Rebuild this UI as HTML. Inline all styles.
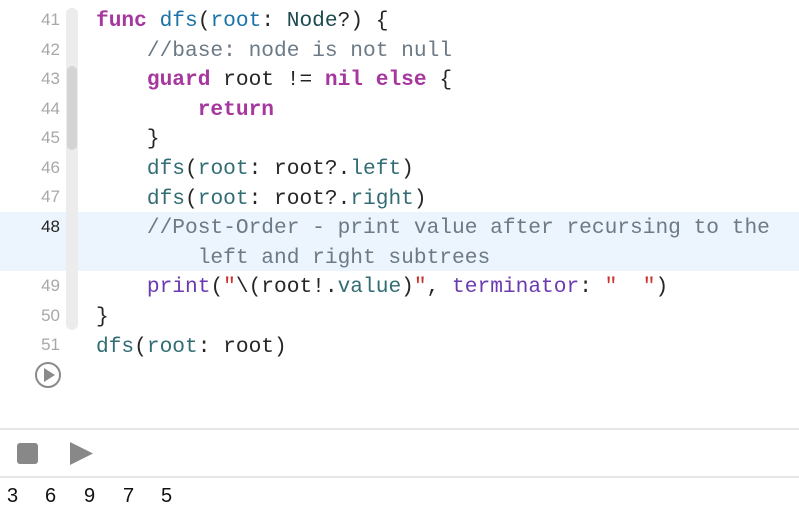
<!DOCTYPE html>
<html><head><style>
body{margin:0;width:799px;height:518px;background:#fff;position:relative;overflow:hidden;font-family:"Liberation Mono",monospace}
.hl{position:absolute;left:0;top:212px;width:799px;height:59px;background:#ecf4fe}
.track{position:absolute;left:66px;top:8px;width:12px;height:322px;background:#ececec;border-radius:6px}
.thumb{position:absolute;left:67px;top:66px;width:10px;height:84px;background:#d4d4d4;border-radius:5px}
.ln{position:absolute;left:0;width:60px;text-align:right;font-family:"Liberation Sans",sans-serif;font-size:17px;color:#a8a8a8}
.ln.cur{color:#222}
.code{position:absolute;left:96px;font-size:21.2px;color:#262626;white-space:pre;line-height:29.6px}
.k{color:#a5379f;font-weight:bold}.f{color:#1a73a8}.t{color:#326d74}.c{color:#6b7a86}.s{color:#c9332a}.n{color:#1c4a4f}.p{color:#6c3ab0}
.sep{position:absolute;left:0;width:799px;height:2px;background:#e6e6e6}
.d{position:absolute;top:485px;font-family:'Liberation Sans',sans-serif;font-size:20px;color:#111}
</style></head><body>
<div class="hl"></div>
<div class="track"></div><div class="thumb"></div>
<div class="ln" style="top:10px">41</div>
<div class="ln" style="top:40px">42</div>
<div class="ln" style="top:69px">43</div>
<div class="ln" style="top:99px">44</div>
<div class="ln" style="top:128px">45</div>
<div class="ln" style="top:158px">46</div>
<div class="ln" style="top:187px">47</div>
<div class="ln cur" style="top:217px">48</div>
<div class="ln" style="top:276px">49</div>
<div class="ln" style="top:306px">50</div>
<div class="ln" style="top:335px">51</div>
<div class="code" style="top:7px"><span class="k">func</span> <span class="f">dfs</span>(<span class="f">root</span>: <span class="n">Node</span>?) {
    <span class="c">//base: node is not null</span>
    <span class="k">guard</span> root != <span class="k">nil</span> <span class="k">else</span> {
        <span class="k">return</span>
    }
    <span class="t">dfs</span>(<span class="t">root</span>: root?.<span class="t">left</span>)
    <span class="t">dfs</span>(<span class="t">root</span>: root?.<span class="t">right</span>)
    <span class="c">//Post-Order - print value after recursing to the</span>
        <span class="c">left and right subtrees</span>
    <span class="p">print</span>(<span class="s">"</span>\(root!.<span class="t">value</span>)<span class="s">"</span>, <span class="p">terminator</span>: <span class="s">"  "</span>)
}
<span class="t">dfs</span>(<span class="t">root</span>: root)</div>
<svg style="position:absolute;left:0;top:0" width="799" height="518">
<circle cx="48" cy="375" r="12" fill="none" stroke="#8a8a8a" stroke-width="2"/>
<polygon points="44,368 44,382 55,375" fill="#8a8a8a"/>
<rect x="17" y="443" width="21" height="21" rx="3" fill="#888"/>
<polygon points="70,442 70,465 93,453.5" fill="#888"/>
</svg>
<div class="sep" style="top:428px"></div>
<div class="sep" style="top:476px"></div>
<div class="d" style="left:7px">3</div>
<div class="d" style="left:45px">6</div>
<div class="d" style="left:84px">9</div>
<div class="d" style="left:123px">7</div>
<div class="d" style="left:161px">5</div>
</body></html>
